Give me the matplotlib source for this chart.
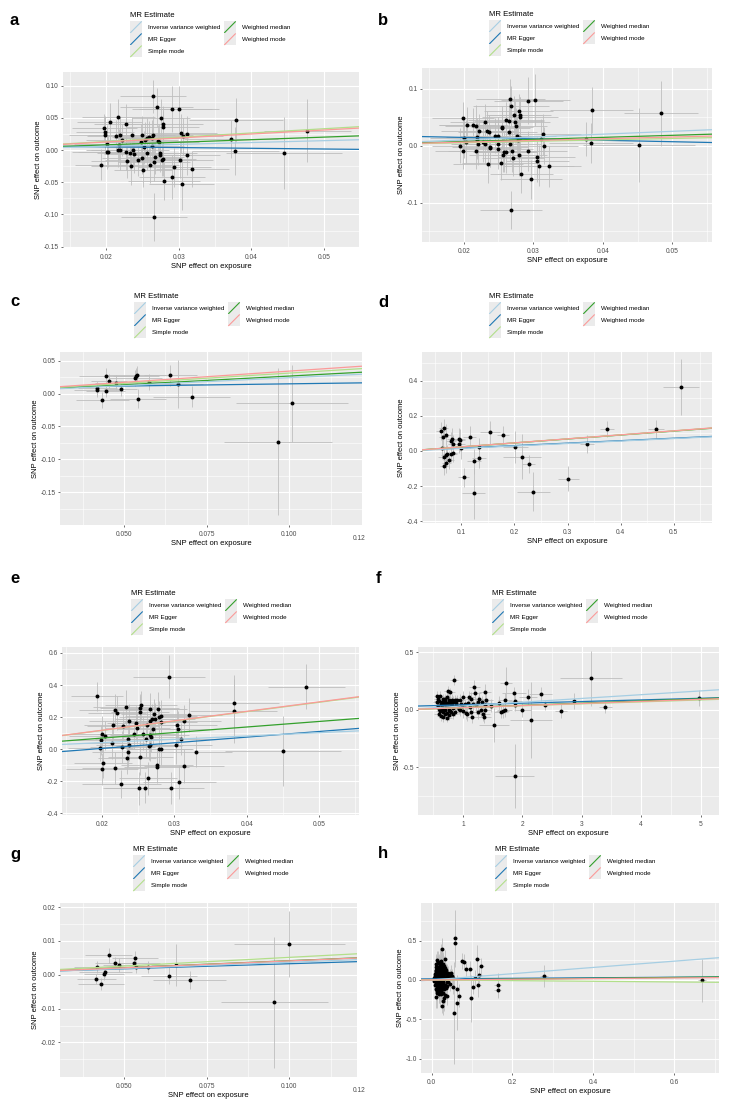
import matplotlib
matplotlib.use('Agg')
import matplotlib.pyplot as plt
from matplotlib.legend_handler import HandlerBase
from matplotlib.patches import Rectangle
from matplotlib.lines import Line2D
import numpy as np

plt.rcParams['font.family'] = ['Liberation Sans', 'DejaVu Sans']

W, H = 731, 1099

methods = ['Inverse variance weighted', 'MR Egger', 'Simple mode', 'Weighted median', 'Weighted mode']
method_colors = ['#a6cee3', '#1f78b4', '#b2df8a', '#33a02c', '#fb9a99']
draw_order = [1, 3, 0, 2, 4]

# ---------------- panel a ----------------
a_x = [0.0193, 0.0198, 0.0199, 0.0199, 0.0201, 0.0202, 0.0203, 0.0205, 0.0214, 0.0217,
       0.0217, 0.0219, 0.0218, 0.0220, 0.0222, 0.0228, 0.0228, 0.0229, 0.0233, 0.0235,
       0.0236, 0.0237, 0.0238, 0.0244, 0.0248, 0.0249, 0.0250, 0.0251, 0.0252, 0.0254,
       0.0256, 0.0256, 0.0259, 0.0261, 0.0263, 0.0263, 0.0265, 0.0265, 0.0266, 0.0266,
       0.0268, 0.0270, 0.0272, 0.0273, 0.0274, 0.0275, 0.0276, 0.0277, 0.0279, 0.0278,
       0.0279, 0.0280, 0.0291, 0.0291, 0.0294, 0.0300, 0.0302, 0.0303, 0.0304, 0.0306,
       0.0311, 0.0312, 0.0319, 0.0372, 0.0379, 0.0378, 0.0445, 0.0477]
a_y = [-0.0225, 0.0337, 0.0276, 0.0235, 0.0092, -0.0030, -0.0030, 0.0430, 0.0220, 0.0510,
       -0.0005, -0.0005, 0.0080, 0.0235, 0.0160, 0.0410, -0.0036, -0.0170, -0.0050, -0.0250,
       0.0235, -0.0005, -0.0056, -0.0150, 0.0130, -0.0130, 0.0235, -0.0310, 0.0040, 0.0160,
       -0.0050, 0.0190, 0.0200, -0.0225, 0.0066, 0.0190, 0.0230, 0.0830, -0.0180, -0.1040,
       -0.0110, 0.0660, 0.0140, 0.0120, -0.0070, -0.0046, 0.0496, -0.0150, 0.0410, 0.0350,
       -0.0140, -0.0480, 0.0640, -0.0420, -0.0270, 0.0640, -0.0150, 0.0260, -0.0530, 0.0210,
       0.0250, -0.0080, -0.0290, 0.0170, 0.0465, -0.0020, -0.0046, 0.0297]
a_sx = [0.0035, 0.0045, 0.0040, 0.0050, 0.0045, 0.0040, 0.0050, 0.0045, 0.0040, 0.0050,
        0.0045, 0.0040, 0.0055, 0.0045, 0.0050, 0.0045, 0.0040, 0.0050, 0.0045, 0.0055,
        0.0045, 0.0050, 0.0040, 0.0045, 0.0050, 0.0055, 0.0045, 0.0040, 0.0050, 0.0045,
        0.0055, 0.0045, 0.0050, 0.0040, 0.0045, 0.0050, 0.0055, 0.0045, 0.0050, 0.0045,
        0.0040, 0.0050, 0.0045, 0.0055, 0.0045, 0.0050, 0.0040, 0.0045, 0.0055, 0.0050,
        0.0045, 0.0050, 0.0055, 0.0045, 0.0050, 0.0055, 0.0045, 0.0050, 0.0045, 0.0055,
        0.0050, 0.0045, 0.0050, 0.0064, 0.0065, 0.0060, 0.0080, 0.0060]
a_sy = [0.024, 0.022, 0.025, 0.028, 0.030, 0.026, 0.024, 0.030, 0.025, 0.028,
        0.026, 0.030, 0.024, 0.027, 0.025, 0.030, 0.028, 0.026, 0.024, 0.029,
        0.027, 0.025, 0.030, 0.026, 0.028, 0.024, 0.030, 0.027, 0.025, 0.028,
        0.026, 0.030, 0.025, 0.028, 0.024, 0.027, 0.029, 0.026, 0.030, 0.037,
        0.026, 0.030, 0.025, 0.028, 0.027, 0.024, 0.030, 0.026, 0.028, 0.025,
        0.027, 0.030, 0.036, 0.034, 0.030, 0.036, 0.028, 0.030, 0.040, 0.028,
        0.027, 0.030, 0.028, 0.030, 0.034, 0.037, 0.056, 0.049]
a_slopes = [0.29, -0.113, 0.66, 0.40, 0.62]
a_egger_int = 0.0072

# ---------------- panel b ----------------
b_x = [0.0194, 0.0199, 0.0199, 0.0201, 0.0203, 0.0205, 0.0214, 0.0218, 0.0217, 0.0219,
       0.0219, 0.0221, 0.0222, 0.0228, 0.0230, 0.0231, 0.0234, 0.0235, 0.0237, 0.0238,
       0.0238, 0.0245, 0.0250, 0.0250, 0.0250, 0.0253, 0.0255, 0.0255, 0.0257, 0.0258,
       0.0261, 0.0261, 0.0265, 0.0265, 0.0266, 0.0267, 0.0268, 0.0268, 0.0269, 0.0271,
       0.0272, 0.0274, 0.0275, 0.0277, 0.0278, 0.0279, 0.0280, 0.0281, 0.0281, 0.0281,
       0.0283, 0.0293, 0.0293, 0.0297, 0.0303, 0.0305, 0.0306, 0.0308, 0.0311, 0.0314,
       0.0315, 0.0323, 0.0376, 0.0384, 0.0383, 0.0452, 0.0484]
b_y = [0.000, 0.048, -0.0088, 0.013, 0.007, 0.036, 0.036, 0.035, -0.010, 0.010,
       0.015, 0.003, 0.025, 0.006, 0.041, 0.003, 0.026, -0.032, 0.024, -0.002,
       -0.0035, 0.0176, 0.003, 0.017, -0.006, -0.031, 0.032, 0.030, -0.016, -0.011,
       0.044, -0.011, 0.043, 0.023, 0.003, 0.082, 0.069, -0.113, -0.009, -0.021,
       0.054, 0.041, 0.035, 0.016, 0.010, 0.060, -0.016, 0.053, 0.050, 0.013,
       -0.049, 0.079, -0.0094, -0.059, 0.080, -0.020, -0.027, -0.035, 0.012, 0.020,
       0.000, -0.036, 0.012, 0.062, 0.005, 0.0006, 0.057]
b_sx = [0.0040, 0.0045, 0.0040, 0.0050, 0.0045, 0.0040, 0.0050, 0.0045, 0.0040, 0.0050,
        0.0045, 0.0040, 0.0055, 0.0045, 0.0050, 0.0045, 0.0040, 0.0050, 0.0045, 0.0055,
        0.0045, 0.0050, 0.0040, 0.0045, 0.0050, 0.0055, 0.0045, 0.0040, 0.0050, 0.0045,
        0.0055, 0.0045, 0.0050, 0.0040, 0.0045, 0.0050, 0.0055, 0.0045, 0.0050, 0.0045,
        0.0040, 0.0050, 0.0045, 0.0055, 0.0045, 0.0050, 0.0040, 0.0045, 0.0055, 0.0050,
        0.0045, 0.0050, 0.0055, 0.0045, 0.0050, 0.0055, 0.0045, 0.0050, 0.0045, 0.0055,
        0.0050, 0.0045, 0.0062, 0.0060, 0.0060, 0.0080, 0.0053]
b_sy = [0.030, 0.028, 0.032, 0.035, 0.038, 0.032, 0.030, 0.036, 0.031, 0.034,
        0.033, 0.037, 0.030, 0.034, 0.032, 0.036, 0.035, 0.033, 0.030, 0.036,
        0.034, 0.031, 0.037, 0.033, 0.035, 0.030, 0.037, 0.034, 0.031, 0.035,
        0.033, 0.037, 0.031, 0.035, 0.030, 0.034, 0.036, 0.033, 0.037, 0.032,
        0.033, 0.037, 0.031, 0.035, 0.034, 0.030, 0.037, 0.033, 0.035, 0.031,
        0.034, 0.042, 0.035, 0.034, 0.045, 0.035, 0.037, 0.036, 0.034, 0.036,
        0.033, 0.036, 0.030, 0.040, 0.035, 0.065, 0.057]
b_slopes = [0.50, -0.25, 0.25, 0.36, 0.30]
b_egger_int = 0.0193

# ---------------- panel c ----------------
c_x = [0.0419, 0.0419, 0.0434, 0.0444, 0.0446, 0.0455, 0.0476, 0.0490, 0.0534, 0.0538,
       0.0536, 0.0541, 0.0576, 0.0640, 0.0663, 0.0704, 0.0965, 0.1009]
c_y = [0.0081, 0.0060, -0.0100, 0.0040, 0.0270, 0.0190, 0.0167, 0.0076, 0.0240, 0.0280,
       0.0260, -0.0076, 0.0170, 0.0280, 0.0146, -0.0050, -0.0730, -0.0150]
c_sx = [0.0060, 0.0070, 0.0080, 0.0060, 0.0083, 0.0055, 0.0065, 0.0050, 0.0080, 0.0090,
        0.0070, 0.0085, 0.0060, 0.0080, 0.0075, 0.0116, 0.0163, 0.0170]
c_sy = [0.010, 0.012, 0.012, 0.010, 0.011, 0.010, 0.012, 0.011, 0.012, 0.013,
        0.012, 0.014, 0.012, 0.016, 0.036, 0.016, 0.112, 0.058]
c_slopes = [0.24, 0.067, 0.31, 0.265, 0.34]
c_egger_int = 0.008

# ---------------- panel d ----------------
d_x = [0.0610, 0.0636, 0.0667, 0.0660, 0.0667, 0.0673, 0.0711, 0.0717, 0.0736, 0.0717,
       0.0761, 0.0800, 0.0824, 0.0837, 0.0837, 0.0810, 0.0950, 0.0970, 0.0950, 0.1000,
       0.1044, 0.1157, 0.1232, 0.1232, 0.1327, 0.1333, 0.1540, 0.1785, 0.2019, 0.2137,
       0.2268, 0.2356, 0.3016, 0.3367, 0.3744, 0.4673, 0.5132]
d_y = [0.113, 0.015, 0.130, 0.081, -0.032, -0.087, -0.023, 0.091, -0.015, -0.068,
       -0.053, 0.055, 0.070, 0.038, -0.011, -0.015, 0.068, 0.062, 0.038, 0.015,
       -0.151, 0.079, -0.240, -0.060, 0.023, -0.043, 0.106, 0.091, 0.021, -0.032,
       -0.075, -0.232, -0.158, 0.040, 0.123, 0.123, 0.362]
d_sx = [0.008, 0.007, 0.009, 0.008, 0.010, 0.008, 0.009, 0.010, 0.008, 0.009,
        0.010, 0.009, 0.010, 0.008, 0.009, 0.010, 0.011, 0.010, 0.012, 0.010,
        0.010, 0.012, 0.022, 0.013, 0.012, 0.013, 0.018, 0.012, 0.024, 0.036,
        0.012, 0.031, 0.020, 0.014, 0.013, 0.015, 0.034]
d_sy = [0.050, 0.060, 0.050, 0.055, 0.060, 0.050, 0.055, 0.060, 0.050, 0.055,
        0.050, 0.055, 0.060, 0.050, 0.055, 0.050, 0.060, 0.060, 0.050, 0.060,
        0.055, 0.065, 0.145, 0.070, 0.050, 0.055, 0.065, 0.050, 0.090, 0.130,
        0.050, 0.110, 0.070, 0.050, 0.045, 0.052, 0.160]
d_slopes = [0.14, 0.14, 0.227, 0.225, 0.228]
d_egger_int = 0.002

# ---------------- panel e ----------------
e_x = [0.0193, 0.0198, 0.0199, 0.0200, 0.0200, 0.0201, 0.0205, 0.0214, 0.0216, 0.0218,
       0.0218, 0.0221, 0.0227, 0.0228, 0.0229, 0.0233, 0.0235, 0.0236, 0.0236, 0.0237,
       0.0237, 0.0244, 0.0247, 0.0249, 0.0251, 0.0252, 0.0253, 0.0253, 0.0254, 0.0257,
       0.0259, 0.0261, 0.0262, 0.0264, 0.0265, 0.0266, 0.0266, 0.0267, 0.0267, 0.0269,
       0.0268, 0.0271, 0.0272, 0.0273, 0.0276, 0.0276, 0.0278, 0.0279, 0.0279, 0.0281,
       0.0281, 0.0282, 0.0293, 0.0296, 0.0302, 0.0304, 0.0305, 0.0307, 0.0309, 0.0313,
       0.0314, 0.0321, 0.0330, 0.0382, 0.0382, 0.0450, 0.0482]
e_y = [0.331, 0.010, 0.058, -0.122, 0.095, -0.087, 0.085, 0.041, 0.149, 0.242,
       -0.118, 0.225, -0.217, 0.014, 0.143, 0.260, -0.054, -0.0145, 0.066, 0.174,
       0.027, 0.093, 0.163, 0.130, -0.244, 0.254, -0.050, 0.231, 0.273, 0.095,
       -0.240, 0.062, 0.149, -0.182, 0.021, 0.252, 0.089, 0.025, 0.178, 0.188,
       0.079, 0.124, 0.221, 0.188, -0.110, -0.097, 0.248, 0.002, 0.198, 0.171,
       0.000, 0.204, 0.452, -0.242, 0.025, 0.151, 0.128, -0.205, 0.064, -0.107,
       0.176, 0.213, -0.0145, 0.285, 0.236, -0.012, 0.388]
e_sx = [0.0036, 0.0045, 0.0040, 0.0050, 0.0045, 0.0040, 0.0050, 0.0045, 0.0040, 0.0050,
        0.0045, 0.0040, 0.0055, 0.0045, 0.0050, 0.0045, 0.0040, 0.0050, 0.0045, 0.0055,
        0.0045, 0.0050, 0.0040, 0.0045, 0.0050, 0.0055, 0.0045, 0.0040, 0.0050, 0.0045,
        0.0055, 0.0045, 0.0050, 0.0040, 0.0045, 0.0050, 0.0055, 0.0045, 0.0050, 0.0045,
        0.0040, 0.0050, 0.0045, 0.0055, 0.0045, 0.0050, 0.0040, 0.0045, 0.0055, 0.0050,
        0.0045, 0.0050, 0.0050, 0.0045, 0.0050, 0.0055, 0.0045, 0.0050, 0.0045, 0.0055,
        0.0050, 0.0045, 0.0050, 0.0062, 0.0060, 0.0080, 0.0053]
e_sy = [0.090, 0.085, 0.095, 0.100, 0.110, 0.095, 0.090, 0.105, 0.092, 0.100,
        0.098, 0.108, 0.090, 0.100, 0.094, 0.106, 0.103, 0.097, 0.090, 0.106,
        0.100, 0.092, 0.108, 0.097, 0.103, 0.090, 0.108, 0.100, 0.092, 0.103,
        0.097, 0.108, 0.092, 0.103, 0.090, 0.100, 0.106, 0.097, 0.108, 0.094,
        0.097, 0.108, 0.092, 0.103, 0.100, 0.090, 0.108, 0.097, 0.103, 0.092,
        0.100, 0.100, 0.135, 0.100, 0.120, 0.103, 0.108, 0.106, 0.100, 0.106,
        0.097, 0.106, 0.095, 0.180, 0.200, 0.220, 0.140]
e_slopes = [2.06, 3.52, 5.85, 3.46, 5.90]
e_egger_int = -0.0655

# ---------------- panel f ----------------
f_x = [0.568, 0.590, 0.579, 0.596, 0.613, 0.624, 0.635, 0.647, 0.658, 0.669,
       0.680, 0.691, 0.703, 0.714, 0.725, 0.736, 0.736, 0.748, 0.759, 0.770,
       0.781, 0.792, 0.804, 0.815, 0.826, 0.849, 0.837, 0.860, 0.871, 0.888,
       0.905, 0.927, 0.944, 0.961, 0.983, 1.006, 1.028, 1.050, 1.073, 1.084,
       1.107, 1.129, 1.140, 1.151, 1.174, 1.191, 1.207, 1.224, 1.252, 1.275,
       1.309, 1.320, 1.342, 1.365, 1.376, 1.376, 1.393, 1.466, 1.522, 1.611,
       1.645, 1.673, 1.701, 1.712, 1.724, 1.853, 1.870, 1.881, 1.881, 1.999,
       2.094, 2.144, 2.307, 2.374, 2.644, 2.868, 3.149, 3.396, 4.978,
       0.560, 0.575, 0.600, 0.620, 0.640, 0.655, 0.665, 0.690, 0.700, 0.720,
       0.745, 0.760, 0.775, 0.790, 0.810, 0.840, 0.880, 0.910, 0.950, 1.000,
       1.120, 1.250, 1.350, 0.745]
f_y = [0.119, 0.075, 0.032, -0.035, 0.119, 0.052, -0.055, 0.009, 0.090, -0.020,
       0.046, -0.041, 0.096, 0.023, -0.029, -0.070, 0.110, 0.058, 0.000, -0.046,
       0.067, 0.038, -0.020, 0.087, 0.017, 0.261, 0.067, -0.017, 0.081, 0.038,
       0.087, 0.009, 0.000, 0.052, 0.029, 0.110, 0.046, -0.029, -0.035, 0.058,
       0.110, 0.093, -0.020, -0.064, 0.046, 0.197, 0.142, 0.038, 0.067, 0.093,
       0.000, 0.067, -0.035, -0.006, 0.157, 0.041, 0.087, 0.035, -0.133, 0.058,
       -0.020, -0.014, 0.000, 0.087, 0.235, 0.142, -0.577, 0.072, 0.043, -0.006,
       0.113, -0.087, 0.139, 0.038, -0.009, 0.078, 0.275, 0.023, 0.099,
       0.065, 0.090, 0.010, -0.010, 0.070, 0.030, -0.060, 0.080, 0.000, 0.060,
       0.020, 0.085, -0.010, 0.150, 0.045, -0.040, 0.060, 0.020, 0.085, -0.015,
       0.020, -0.020, -0.060, 0.160]
f_sx = [0.06, 0.07, 0.05, 0.08, 0.06, 0.07, 0.08, 0.06, 0.07, 0.05,
        0.08, 0.06, 0.07, 0.05, 0.06, 0.08, 0.07, 0.06, 0.05, 0.07,
        0.06, 0.08, 0.07, 0.06, 0.05, 0.07, 0.08, 0.06, 0.07, 0.08,
        0.06, 0.07, 0.08, 0.06, 0.07, 0.08, 0.09, 0.07, 0.08, 0.09,
        0.10, 0.08, 0.09, 0.10, 0.08, 0.09, 0.10, 0.08, 0.12, 0.10,
        0.11, 0.10, 0.12, 0.11, 0.10, 0.12, 0.11, 0.12, 0.25, 0.10,
        0.12, 0.11, 0.13, 0.12, 0.10, 0.20, 0.33, 0.12, 0.13, 0.14,
        0.15, 0.36, 0.20, 0.05, 0.10, 0.05, 0.52, 0.11, 0.06,
        0.06, 0.07, 0.05, 0.07, 0.06, 0.08, 0.06, 0.07, 0.05, 0.06,
        0.07, 0.06, 0.08, 0.07, 0.06, 0.07, 0.08, 0.07, 0.08, 0.09,
        0.10, 0.11, 0.12, 0.06]
f_sy = [0.040, 0.045, 0.050, 0.040, 0.045, 0.050, 0.040, 0.045, 0.050, 0.040,
        0.045, 0.050, 0.040, 0.045, 0.050, 0.040, 0.045, 0.050, 0.040, 0.045,
        0.050, 0.040, 0.045, 0.050, 0.040, 0.045, 0.050, 0.040, 0.045, 0.050,
        0.045, 0.050, 0.055, 0.045, 0.050, 0.055, 0.050, 0.055, 0.060, 0.050,
        0.055, 0.060, 0.050, 0.055, 0.060, 0.060, 0.055, 0.060, 0.050, 0.055,
        0.060, 0.055, 0.060, 0.050, 0.065, 0.055, 0.060, 0.055, 0.150, 0.060,
        0.055, 0.060, 0.065, 0.060, 0.140, 0.060, 0.280, 0.060, 0.055, 0.060,
        0.070, 0.330, 0.060, 0.040, 0.060, 0.070, 0.240, 0.050, 0.070,
        0.045, 0.040, 0.050, 0.045, 0.040, 0.050, 0.045, 0.040, 0.050, 0.045,
        0.040, 0.050, 0.045, 0.040, 0.050, 0.045, 0.050, 0.045, 0.050, 0.055,
        0.055, 0.060, 0.055, 0.045]
f_slopes = [0.0327, 0.0142, 0.017, 0.019, 0.018]
f_egger_int = 0.0285

# ---------------- panel g ----------------
g_x = [0.0416, 0.0417, 0.0430, 0.0440, 0.0443, 0.0453, 0.0473, 0.0486, 0.0530, 0.0533,
       0.0536, 0.0572, 0.0635, 0.0657, 0.0699, 0.0955, 0.1000]
g_y = [-0.0012, 0.0022, -0.0028, 0.0001, 0.0008, 0.0058, 0.0035, 0.0029, 0.0036, 0.0051,
       0.0023, 0.0023, -0.0003, 0.0029, -0.0016, -0.0081, 0.0091]
g_sx = [0.0060, 0.0070, 0.0070, 0.0060, 0.0080, 0.0070, 0.0060, 0.0050, 0.0080, 0.0070,
        0.0090, 0.0070, 0.0085, 0.0075, 0.0110, 0.0163, 0.0168]
g_sy = [0.0015, 0.0018, 0.0017, 0.0016, 0.0015, 0.0022, 0.0018, 0.0020, 0.0017, 0.0019,
        0.0018, 0.0017, 0.0025, 0.0063, 0.0027, 0.0193, 0.0097]
g_slopes = [0.037, 0.030, 0.0514, 0.0415, 0.041]
g_egger_int = 0.00026

# ---------------- panel h ----------------
h_x = [0.0123, 0.0263, 0.0329, 0.0370, 0.0263, 0.0576, 0.0576, 0.0560, 0.0640, 0.0617,
       0.0675, 0.0740, 0.0790, 0.0840, 0.0950, 0.0970, 0.1030, 0.1070, 0.1130, 0.1150,
       0.1180, 0.1230, 0.1630, 0.1630, 0.2780, 0.6690, 0.0480, 0.0510, 0.0530, 0.0450,
       0.0520, 0.0460, 0.0410, 0.0410, 0.0395,
       0.008, 0.010, 0.012, 0.014, 0.016, 0.018, 0.020, 0.022, 0.024, 0.026,
       0.009, 0.011, 0.013, 0.015, 0.017, 0.019, 0.021, 0.023, 0.025, 0.027,
       0.010, 0.012, 0.014, 0.016, 0.018, 0.020, 0.022, 0.024, 0.026, 0.028,
       0.011, 0.013, 0.015, 0.017, 0.019, 0.021, 0.023, 0.025, 0.027, 0.029,
       0.012, 0.014, 0.016, 0.018, 0.020, 0.022, 0.024, 0.026, 0.028, 0.030,
       0.013, 0.015, 0.017, 0.019, 0.021, 0.023, 0.025, 0.027, 0.029, 0.031,
       0.014, 0.016, 0.018, 0.020, 0.022, 0.024, 0.026, 0.028, 0.030, 0.032,
       0.007, 0.009, 0.011, 0.015, 0.019, 0.023, 0.027, 0.031, 0.033, 0.035,
       0.006, 0.010, 0.016, 0.020, 0.024, 0.028, 0.032, 0.036, 0.038, 0.034,
       0.012, 0.018, 0.022, 0.026, 0.030, 0.017, 0.021, 0.025, 0.013, 0.019,
       0.031, 0.033, 0.037, 0.039, 0.029, 0.027, 0.011, 0.015, 0.023, 0.035]
h_y = [0.253, 0.392, 0.261, -0.202, -0.324, 0.527, 0.464, -0.421, -0.287, -0.114,
       -0.198, 0.244, 0.223, 0.135, 0.135, -0.232, -0.084, 0.025, 0.261, -0.067,
       0.063, 0.181, -0.067, -0.126, 0.051, -0.004, 0.084, 0.055, 0.021, -0.051,
       -0.084, 0.055, 0.093, -0.030, 0.034,
       0.05, -0.03, 0.11, -0.08, 0.02, 0.15, -0.12, 0.07, -0.01, 0.18,
       -0.06, 0.09, -0.14, 0.04, -0.09, 0.01, 0.12, -0.05, 0.08, -0.16,
       0.13, 0.00, 0.06, -0.11, 0.17, -0.04, 0.03, 0.14, -0.10, 0.05,
       -0.02, -0.10, 0.10, 0.07, -0.06, 0.19, -0.15, 0.02, 0.11, -0.07,
       0.08, -0.17, -0.04, 0.12, 0.04, -0.09, 0.09, -0.03, 0.16, 0.01,
       0.16, 0.03, -0.13, -0.01, 0.09, 0.06, -0.07, 0.13, -0.02, -0.12,
       -0.05, 0.14, 0.05, -0.16, -0.02, 0.21, 0.04, -0.08, 0.07, 0.10,
       0.02, 0.07, -0.12, -0.06, 0.10, -0.11, -0.04, 0.03, -0.06, 0.12,
       -0.01, 0.17, 0.22, 0.13, -0.14, 0.09, -0.09, 0.04, -0.02, 0.15,
       -0.21, -0.18, 0.24, 0.11, -0.23, 0.00, -0.07, 0.00, 0.02, 0.06,
       0.18, -0.19, 0.08, -0.08, 0.20, -0.27, 0.20, 0.23, -0.18, -0.10]
h_sx = [0.003, 0.003, 0.003, 0.004, 0.003, 0.004, 0.004, 0.004, 0.004, 0.004,
        0.004, 0.005, 0.005, 0.005, 0.005, 0.005, 0.005, 0.005, 0.006, 0.006,
        0.006, 0.006, 0.008, 0.008, 0.010, 0.010, 0.004, 0.004, 0.004, 0.004,
        0.004, 0.004, 0.004, 0.004, 0.004,
        0.003, 0.002, 0.003, 0.004, 0.003, 0.002, 0.003, 0.004, 0.003, 0.003,
        0.002, 0.003, 0.004, 0.003, 0.002, 0.003, 0.003, 0.004, 0.002, 0.003,
        0.003, 0.004, 0.002, 0.003, 0.003, 0.002, 0.004, 0.003, 0.003, 0.002,
        0.004, 0.003, 0.003, 0.002, 0.003, 0.004, 0.002, 0.003, 0.003, 0.004,
        0.002, 0.003, 0.004, 0.003, 0.002, 0.003, 0.003, 0.004, 0.002, 0.003,
        0.003, 0.002, 0.003, 0.004, 0.003, 0.002, 0.004, 0.003, 0.003, 0.002,
        0.004, 0.003, 0.002, 0.003, 0.004, 0.003, 0.002, 0.003, 0.004, 0.003,
        0.002, 0.003, 0.003, 0.004, 0.002, 0.003, 0.004, 0.003, 0.002, 0.003,
        0.003, 0.002, 0.004, 0.003, 0.003, 0.002, 0.003, 0.004, 0.003, 0.002,
        0.004, 0.003, 0.002, 0.003, 0.003, 0.004, 0.002, 0.003, 0.003, 0.004,
        0.003, 0.004, 0.002, 0.003, 0.003, 0.002, 0.003, 0.004, 0.003, 0.003]
h_sy = [0.12, 0.14, 0.12, 0.12, 0.10, 0.36, 0.25, 0.65, 0.35, 0.12,
        0.15, 0.10, 0.10, 0.08, 0.10, 0.30, 0.10, 0.10, 0.18, 0.15,
        0.10, 0.10, 0.15, 0.10, 0.14, 0.27, 0.10, 0.09, 0.08, 0.09,
        0.10, 0.08, 0.09, 0.09, 0.08,
        0.08, 0.12, 0.10, 0.15, 0.09, 0.18, 0.07, 0.11, 0.14, 0.20,
        0.10, 0.13, 0.08, 0.16, 0.12, 0.09, 0.19, 0.07, 0.11, 0.15,
        0.12, 0.08, 0.17, 0.10, 0.14, 0.06, 0.13, 0.09, 0.18, 0.11,
        0.07, 0.15, 0.12, 0.08, 0.16, 0.22, 0.10, 0.13, 0.09, 0.14,
        0.11, 0.19, 0.08, 0.12, 0.10, 0.15, 0.07, 0.13, 0.17, 0.09,
        0.14, 0.10, 0.16, 0.08, 0.12, 0.09, 0.11, 0.15, 0.07, 0.13,
        0.09, 0.12, 0.10, 0.18, 0.08, 0.24, 0.11, 0.14, 0.09, 0.12,
        0.10, 0.09, 0.14, 0.11, 0.13, 0.08, 0.12, 0.10, 0.15, 0.09,
        0.12, 0.16, 0.10, 0.13, 0.09, 0.14, 0.11, 0.08, 0.12, 0.10,
        0.15, 0.11, 0.13, 0.09, 0.17, 0.08, 0.12, 0.10, 0.14, 0.09,
        0.13, 0.10, 0.12, 0.09, 0.15, 0.18, 0.11, 0.14, 0.10, 0.12]
h_slopes = [0.397, 0.034, -0.042, 0.053, 0.042]
h_egger_int = 0.014

# tick labels per panel
ticks_2dp = ['0.02', '0.03', '0.04', '0.05']
ticks_c = ['0.050', '0.075', '0.100']

panels = [
    dict(letter='a', x=a_x, y=a_y, sx=a_sx, sy=a_sy, slopes=a_slopes, eint=a_egger_int,
         rect=(63, 72, 359, 248), xlim=(0.0141, 0.0548), ylim=(-0.152, 0.121),
         xt=[0.02, 0.03, 0.04, 0.05], xtl=ticks_2dp,
         yt=[-0.15, -0.10, -0.05, 0.0, 0.05, 0.10],
         ytl=['-0.15', '-0.10', '-0.05', '0.00', '0.05', '0.10'],
         lpos=(10, 25), legpos=(130, 12)),
    dict(letter='b', x=b_x, y=b_y, sx=b_sx, sy=b_sy, slopes=b_slopes, eint=b_egger_int,
         rect=(422, 68, 712, 242), xlim=(0.0140, 0.0557), ylim=(-0.169, 0.136),
         xt=[0.02, 0.03, 0.04, 0.05], xtl=ticks_2dp,
         yt=[-0.1, 0.0, 0.1], ytl=['-0.1', '0.0', '0.1'],
         lpos=(378, 25), legpos=(489, 11)),
    dict(letter='c', x=c_x, y=c_y, sx=c_sx, sy=c_sy, slopes=c_slopes, eint=c_egger_int,
         rect=(60, 352, 362, 525), xlim=(0.0306, 0.1220), ylim=(-0.1995, 0.063),
         xt=[0.05, 0.075, 0.10], xtl=ticks_c,
         yt=[-0.15, -0.10, -0.05, 0.0, 0.05],
         ytl=['-0.15', '-0.10', '-0.05', '0.00', '0.05'],
         lpos=(10, 306), legpos=(134, 293)),
    dict(letter='d', x=d_x, y=d_y, sx=d_sx, sy=d_sy, slopes=d_slopes, eint=d_egger_int,
         rect=(422, 352, 712, 523), xlim=(0.0259, 0.572), ylim=(-0.41, 0.562),
         xt=[0.1, 0.2, 0.3, 0.4, 0.5], xtl=['0.1', '0.2', '0.3', '0.4', '0.5'],
         yt=[-0.4, -0.2, 0.0, 0.2, 0.4], ytl=['-0.4', '-0.2', '0.0', '0.2', '0.4'],
         lpos=(378, 307), legpos=(489, 293)),
    dict(letter='e', x=e_x, y=e_y, sx=e_sx, sy=e_sy, slopes=e_slopes, eint=e_egger_int,
         rect=(62, 647, 359, 815), xlim=(0.0145, 0.0555), ylim=(-0.41, 0.637),
         xt=[0.02, 0.03, 0.04, 0.05], xtl=ticks_2dp,
         yt=[-0.4, -0.2, 0.0, 0.2, 0.4, 0.6],
         ytl=['-0.4', '-0.2', '0.0', '0.2', '0.4', '0.6'],
         lpos=(10, 583), legpos=(131, 590)),
    dict(letter='f', x=f_x, y=f_y, sx=f_sx, sy=f_sy, slopes=f_slopes, eint=f_egger_int,
         rect=(418, 647, 719, 815), xlim=(0.243, 5.31), ylim=(-0.917, 0.546),
         xt=[1, 2, 3, 4, 5], xtl=['1', '2', '3', '4', '5'],
         yt=[-0.5, 0.0, 0.5], ytl=['-0.5', '0.0', '0.5'],
         lpos=(376, 583), legpos=(492, 590)),
    dict(letter='g', x=g_x, y=g_y, sx=g_sx, sy=g_sy, slopes=g_slopes, eint=g_egger_int,
         rect=(60, 903, 357, 1077), xlim=(0.0306, 0.1205), ylim=(-0.0302, 0.0212),
         xt=[0.05, 0.075, 0.10], xtl=ticks_c,
         yt=[-0.02, -0.01, 0.0, 0.01, 0.02],
         ytl=['-0.02', '-0.01', '0.00', '0.01', '0.02'],
         lpos=(10, 859), legpos=(133, 846)),
    dict(letter='h', x=h_x, y=h_y, sx=h_sx, sy=h_sy, slopes=h_slopes, eint=h_egger_int,
         rect=(421, 903, 719, 1073), xlim=(-0.0263, 0.711), ylim=(-1.18, 0.976),
         xt=[0.0, 0.2, 0.4, 0.6], xtl=['0.0', '0.2', '0.4', '0.6'],
         yt=[-1.0, -0.5, 0.0, 0.5], ytl=['-1.0', '-0.5', '0.0', '0.5'],
         lpos=(378, 858), legpos=(495, 846)),
]


class AblineKey(HandlerBase):
    # ggplot-style abline key: grey box with a diagonal line
    def create_artists(self, legend, orig_handle, xdescent, ydescent, width, height, fontsize, trans):
        bg = Rectangle((-xdescent, -ydescent), width, height, facecolor='#EBEBEB',
                       edgecolor='none', transform=trans)
        ln = Line2D([-xdescent + 0.5, -xdescent + width - 0.5],
                    [-ydescent + 0.5, -ydescent + height - 0.5],
                    color=orig_handle.get_color(), lw=0.8, transform=trans)
        return [bg, ln]


def minors(t, lim):
    t = np.asarray(t, dtype=float)
    step = t[1] - t[0]
    m = np.arange(t[0] - step / 2, t[-1] + step, step)
    return m[(m > lim[0]) & (m < lim[1])]


fig = plt.figure(figsize=(W / 100, H / 100), dpi=100)
fig.patch.set_facecolor('white')

for p in panels:
    l, t, r, b = p['rect']
    ax = fig.add_axes([l / W, 1 - b / H, (r - l) / W, (b - t) / H])
    ax.set_facecolor('#EBEBEB')
    x = np.array(p['x']); y = np.array(p['y'])
    sx = np.array(p['sx']); sy = np.array(p['sy'])
    assert len(x) == len(y) == len(sx) == len(sy), p['letter']

    ax.vlines(x, y - sy, y + sy, color='#BEBEBE', lw=0.6, zorder=2)
    ax.hlines(y, x - sx, x + sx, color='#BEBEBE', lw=0.6, zorder=2)
    ax.scatter(x, y, s=8, c='black', linewidths=0, zorder=3)

    xs = np.array(p['xlim'])
    for i in draw_order:
        icpt = p['eint'] if i == 1 else 0.0
        ax.plot(xs, icpt + p['slopes'][i] * xs, color=method_colors[i], lw=0.9, zorder=4)

    ax.set_xlim(p['xlim']); ax.set_ylim(p['ylim'])
    ax.set_xticks(p['xt']); ax.set_xticklabels(p['xtl'])
    ax.set_yticks(p['yt']); ax.set_yticklabels(p['ytl'])
    ax.set_xticks(minors(p['xt'], p['xlim']), minor=True)
    ax.set_yticks(minors(p['yt'], p['ylim']), minor=True)
    ax.grid(which='major', color='white', lw=0.8)
    ax.grid(which='minor', color='white', lw=0.4)
    ax.set_axisbelow(True)
    for s in ax.spines.values():
        s.set_visible(False)
    ax.tick_params(which='major', length=1.5, width=0.5, color='#333333',
                   labelsize=4.8, labelcolor='#4D4D4D')
    ax.tick_params(axis='x', which='major', pad=2.5)
    ax.tick_params(axis='y', which='major', pad=1.5)
    ax.tick_params(which='minor', length=0)
    ax.set_xlabel('SNP effect on exposure', fontsize=5.5, labelpad=2)
    ax.set_ylabel('SNP effect on outcome', fontsize=5.5, labelpad=1)

    handles = [Line2D([], [], color=c) for c in method_colors]
    lx, ly = p['legpos']
    leg = ax.legend(handles, methods, handler_map={Line2D: AblineKey()},
                    title='MR Estimate', title_fontsize=5.6, fontsize=4.5,
                    ncol=2, loc='upper left', bbox_to_anchor=(lx / W, 1 - ly / H),
                    bbox_transform=fig.transFigure, frameon=False, borderpad=0,
                    handlelength=1.92, handleheight=2.6, labelspacing=0.0,
                    handletextpad=0.96, columnspacing=0.58, alignment='left',
                    borderaxespad=0)
    leg._legend_box.sep = 1.5

    fig.text(p['lpos'][0] / W, 1 - p['lpos'][1] / H, p['letter'], fontsize=12,
             fontweight='bold', ha='left', va='baseline')

# cut-off tick label at the right edge of the c and g panels
for ty in (538, 1090):
    fig.text(353 / W, 1 - ty / H, '0.12', fontsize=4.8, color='#4D4D4D', ha='left', va='center')

fig.savefig('out.png', dpi=100)
